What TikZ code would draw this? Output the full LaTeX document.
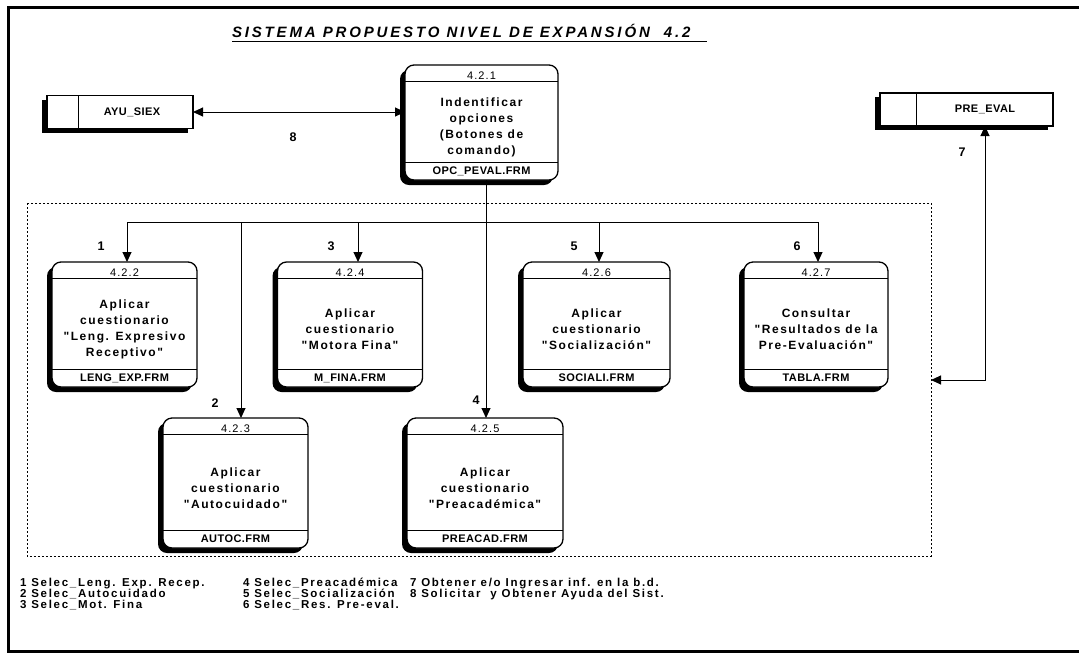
\documentclass[tikz,border=0pt]{standalone}
\usepackage{fontspec}
\setmainfont{Liberation Sans}
\newfontfamily\titlefont{Liberation Sans}[LetterSpace=19]
\newfontfamily\bodyfont{Liberation Sans}[LetterSpace=13]
\newfontfamily\legendfont{Liberation Sans}[LetterSpace=15]
\newfontfamily\filefont{Liberation Sans}[LetterSpace=4]
\newfontfamily\idfont{Liberation Sans}[LetterSpace=10]
\usetikzlibrary{arrows.meta,shadows,calc}

% process box: name, x, y, width, height, number, text, file
\newcommand\procnode[8]{%
  \node[proc, minimum width=#4pt, minimum height=#5pt] (#1) at (#2,#3) {};
  \draw[sep] ([yshift=-16pt]#1.north west) -- ([yshift=-16pt]#1.north east);
  \draw[sep] ([yshift=18pt]#1.south west) -- ([yshift=18pt]#1.south east);
  \node[num, anchor=base] (#1n) at ([yshift=-14pt]#1.north) {#6};
  \node[body] (#1t) at ([yshift=-5pt]#1.center) {#7};
  \node[file, anchor=base] (#1f) at ([yshift=6pt]#1.south) {#8};
}

\begin{document}
\begin{tikzpicture}[x=1pt,y=-1pt,
  every node/.style={inner sep=0pt, outer sep=0pt},
  proc/.style={draw, line width=1.3pt, fill=white, rounded corners=9pt,
    drop shadow={shadow xshift=-5pt, shadow yshift=-5pt, fill=black, opacity=1}},
  store/.style={draw, line width=1.3pt, fill=white,
    drop shadow={shadow xshift=-5pt, shadow yshift=-4pt, fill=black, opacity=1}},
  sep/.style={line width=1pt},
  flow/.style={line width=1pt, -{Triangle[length=10pt,width=9pt]}},
  bflow/.style={line width=1pt, {Triangle[length=10pt,width=9pt]}-{Triangle[length=10pt,width=9pt]}},
  num/.style={font=\idfont\fontsize{11}{11}\selectfont},
  file/.style={font=\filefont\bfseries\fontsize{11}{11}\selectfont},
  body/.style={align=center, font=\bodyfont\bfseries\fontsize{12}{16}\selectfont},
  lbl/.style={font=\bfseries\fontsize{12.5}{12.5}\selectfont},
  legend/.style={anchor=north west, align=left, font=\legendfont\bfseries\fontsize{11.5}{11}\selectfont},
]
\useasboundingbox (0,0) rectangle (1079,657);

% frame
\draw[line width=3pt] (1079,7) -- (8,7) -- (8,651) -- (1079,651);

% title
\node[anchor=base west] (title) at (232,37)
  {\titlefont\bfseries\itshape\fontsize{15}{15}\selectfont SISTEMA PROPUESTO NIVEL DE EXPANSIÓN\ \ 4.2};
\draw[line width=1pt] (232,41) -- (707,41);

% group boundary
\draw[line width=0.9pt, dash pattern=on 2pt off 2pt] (27,203) rectangle (931,556);

% data stores
\node[store, minimum width=146pt, minimum height=33pt] (ayu) at (120,112) {};
\draw[sep] (78,95.5) -- (78,128.5);
\node[file] (ayut) at (132,112) {AYU\_SIEX};
\node[store, minimum width=173pt, minimum height=33pt] (pre) at (966.5,109.5) {};
\draw[sep] (916,93) -- (916,126);
\node[file] (pret) at (985,109.5) {PRE\_EVAL};

% processes
\procnode{p421}{481.5}{122.5}{153}{115}{4.2.1}{Indentificar\\opciones\\(Botones de\\comando)}{OPC\_PEVAL.FRM}
\procnode{p422}{124.5}{324.5}{145}{125}{4.2.2}{Aplicar\\cuestionario\\"Leng. Expresivo\\Receptivo"}{LENG\_EXP.FRM}
\procnode{p424}{350}{324.5}{145}{125}{4.2.4}{Aplicar\\cuestionario\\"Motora Fina"}{M\_FINA.FRM}
\procnode{p426}{596.5}{324.5}{147}{125}{4.2.6}{Aplicar\\cuestionario\\"Socialización"}{SOCIALI.FRM}
\procnode{p427}{816}{324.5}{144}{125}{4.2.7}{Consultar\\"Resultados de la\\Pre-Evaluación"}{TABLA.FRM}
\procnode{p423}{235.5}{483}{145}{130}{4.2.3}{Aplicar\\cuestionario\\"Autocuidado"}{AUTOC.FRM}
\procnode{p425}{485}{483}{156}{130}{4.2.5}{Aplicar\\cuestionario\\"Preacadémica"}{PREACAD.FRM}

% flows
\coordinate (j) at (486,222);
\coordinate (b1) at (127,222);
\coordinate (b2) at (241,222);
\coordinate (b3) at (358,222);
\coordinate (b5) at (599,222);
\coordinate (b6) at (818,222);
\coordinate (gin) at (931,380);
\coordinate (k7) at (985,380);

\draw[bflow] (ayu.east) -- (ayu.east -| p421.west);
\draw[flow] (p421.south -| j) -- (j |- p425.north);
\draw[line width=1pt] (b1) -- (b6);
\draw[flow] (b1) -- (b1 |- p422.north);
\draw[flow] (b2) -- (b2 |- p423.north);
\draw[flow] (b3) -- (b3 |- p424.north);
\draw[flow] (b5) -- (b5 |- p426.north);
\draw[flow] (b6) -- (b6 |- p427.north);
\draw[bflow] (gin) -- (k7) -- (k7 |- pre.south);

% flow numbers
\node[lbl] (l8) at (293,137) {8};
\node[lbl] (l7) at (962,152) {7};
\node[lbl] (l1) at (101,246) {1};
\node[lbl] (l3) at (331,246) {3};
\node[lbl] (l5) at (574,246) {5};
\node[lbl] (l6) at (797,246) {6};
\node[lbl] (l2) at (215,403) {2};
\node[lbl] (l4) at (476,400) {4};

% legend
\node[legend] (leg1) at (20,578) {1 Selec\_Leng. Exp. Recep.\\2 Selec\_Autocuidado\\3 Selec\_Mot. Fina};
\node[legend] (leg2) at (243,578) {4 Selec\_Preacadémica\\5 Selec\_Socialización\\6 Selec\_Res. Pre-eval.};
\node[legend] (leg3) at (410,578) {7 Obtener e/o Ingresar inf. en la b.d.\\8 Solicitar\ \ y Obtener Ayuda del Sist.};
\end{tikzpicture}
\end{document}
